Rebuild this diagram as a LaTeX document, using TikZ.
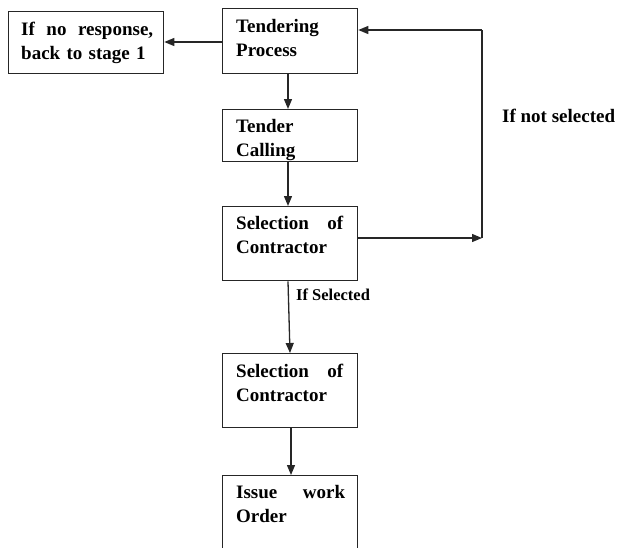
\documentclass[tikz,border=0pt]{standalone}
\usepackage{fontspec}
\setmainfont{Liberation Serif}
\usetikzlibrary{arrows.meta}
\begin{document}
\begin{tikzpicture}[x=1pt,y=-1pt,
  box/.style={draw=black!85, line width=1.3pt, inner sep=0pt, anchor=north west},
  txt/.style={anchor=base west, inner sep=0pt, text width=108pt, align=left,
              font=\bfseries\fontsize{19}{24}\selectfont},
  lbl/.style={anchor=base west, inner sep=0pt},
  ln/.style={draw=black!85, line width=1.3pt},
  arr/.style={ln, -{Triangle[length=10pt,width=8pt]}}]
\clip (0,0) rectangle (619,547);
% boxes
\node[box, minimum width=155pt, minimum height=62pt] (nr) at (8,11) {};
\node[box, minimum width=135pt, minimum height=65pt] (tp) at (222,8) {};
\node[box, minimum width=135pt, minimum height=52pt] (tc) at (222,109) {};
\node[box, minimum width=135pt, minimum height=74pt] (s1) at (222,206) {};
\node[box, minimum width=135pt, minimum height=74pt] (s2) at (222,353) {};
\node[box, minimum width=135pt, minimum height=90pt] (iw) at (222,475) {};
% texts
\node[txt, text width=132pt] (nrt) at (21,35) {\hbox to 132pt{If\hfill no\hfill response,}\\back to stage 1};
\node[txt] (tpt) at (236,32) {Tendering\\Process};
\node[txt] (tct) at (236,132) {Tender\\Calling};
\node[txt] (s1t) at (236,229) {\hbox to 107pt{Selection\hfill of}\\Contractor};
\node[txt] (s2t) at (236,377) {\hbox to 107pt{Selection\hfill of}\\Contractor};
\node[txt] (iwt) at (236,498) {\hbox to 109pt{Issue\hfill work}\\Order};
% labels
\node[lbl, font=\bfseries\fontsize{19}{23}\selectfont] (lns) at (502,122) {If not selected};
\node[lbl, font=\bfseries\fontsize{16.5}{20}\selectfont] (lsel) at (296,300) {If Selected};
% connectors
\coordinate (c1) at (482,238);
\coordinate (c2) at (482,30);
\draw[arr] (tp.west |- 0,42) -- (nr.east |- 0,42);
\draw[arr] (tp.south -| 288,0) -- (tc.north -| 288,0);
\draw[arr] (tc.south -| 288,0) -- (s1.north -| 288,0);
\draw[arr] (s1.east |- c1) -- (c1);
\draw[ln] (c1) -- (c2);
\draw[arr] (c2) -- (tp.east |- c2);
\draw[arr] (s1.south -| 288,0) -- (s2.north -| 290,0);
\draw[arr] (s2.south -| 291,0) -- (iw.north -| 291,0);
\end{tikzpicture}
\end{document}
